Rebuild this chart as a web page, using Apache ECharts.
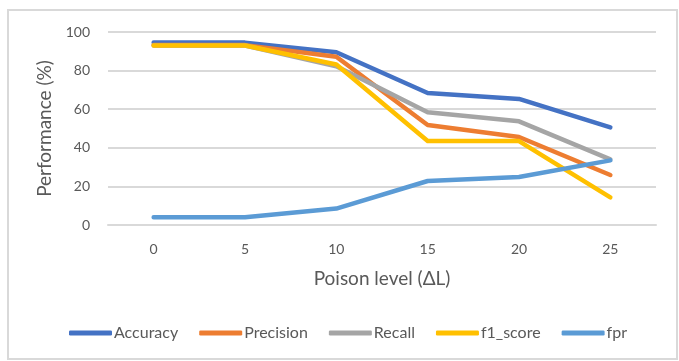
<!DOCTYPE html>
<html>
<head>
<meta charset="utf-8">
<script src="https://cdn.jsdelivr.net/npm/echarts@6/dist/echarts.min.js"></script>
<style>
  html, body { margin: 0; padding: 0; background: #fff; }
  #chart { width: 679px; height: 361px; }
</style>
</head>
<body>
<div id="chart"></div>
<script>
// poison levels and metrics (%)
const levels = ['0', '5', '10', '15', '20', '25'];
const accuracy = [94.5, 94.5, 89.5, 68.4, 65.3, 50.6];
const precision = [93.2, 93.2, 87.2, 51.8, 45.6, 25.9];
const recall = [93, 93, 82.2, 58.4, 53.7, 34];
const f1Score = [93, 93, 83.2, 43.5, 43.5, 14.3];
const fpr = [4, 4, 8.5, 22.8, 24.9, 33.5];

const names = ['Accuracy', 'Precision', 'Recall', 'f1_score', 'fpr'];
const colors = ['#4472C4', '#ED7D31', '#A5A5A5', '#FFC000', '#5B9BD5'];
const values = [accuracy, precision, recall, f1Score, fpr];

const font = 'Lato, "Open Sans", sans-serif';
const chart = echarts.init(document.getElementById('chart'));

const option = {
  animation: false,
  textStyle: { fontFamily: font },
  graphic: [{
    type: 'rect',
    shape: { x: 8, y: 10, width: 669, height: 349 },
    style: { fill: 'none', stroke: '#d9d9d9', lineWidth: 2 },
    silent: true
  }],
  grid: { left: 108, right: 23, top: 32, bottom: 136 },
  legend: {
    data: names,
    left: 64,
    top: 320,
    icon: 'roundRect',
    itemWidth: 43,
    itemHeight: 5,
    itemGap: 21,
    textStyle: { fontFamily: font, fontSize: 16, color: '#595959', padding: [0, 0, 0, -3] }
  },
  xAxis: {
    type: 'category',
    data: levels,
    name: 'Poison level (\u0394L)',
    nameLocation: 'middle',
    nameGap: 44,
    nameTextStyle: { fontFamily: font, fontSize: 19, color: '#595959' },
    axisLine: { lineStyle: { color: '#d9d9d9', width: 2 } },
    axisTick: { show: false },
    axisLabel: { fontFamily: font, fontSize: 14, color: '#595959', margin: 17 }
  },
  yAxis: {
    type: 'value',
    min: 0,
    max: 100,
    interval: 20,
    name: 'Performance (%)',
    nameLocation: 'middle',
    nameGap: 52,
    nameTextStyle: { fontFamily: font, fontSize: 19, color: '#595959' },
    axisLine: { show: false },
    axisTick: { show: false },
    axisLabel: { fontFamily: font, fontSize: 14, color: '#595959', margin: 18 },
    splitLine: { lineStyle: { color: '#d9d9d9', width: 2 } }
  },
  series: names.map((n, i) => ({
    name: n,
    type: 'line',
    data: values[i],
    showSymbol: false,
    symbol: 'none',
    color: colors[i],
    lineStyle: { width: 4.5, color: colors[i], cap: 'round', join: 'round' }
  }))
};

chart.setOption(option);
</script>
</body>
</html>
